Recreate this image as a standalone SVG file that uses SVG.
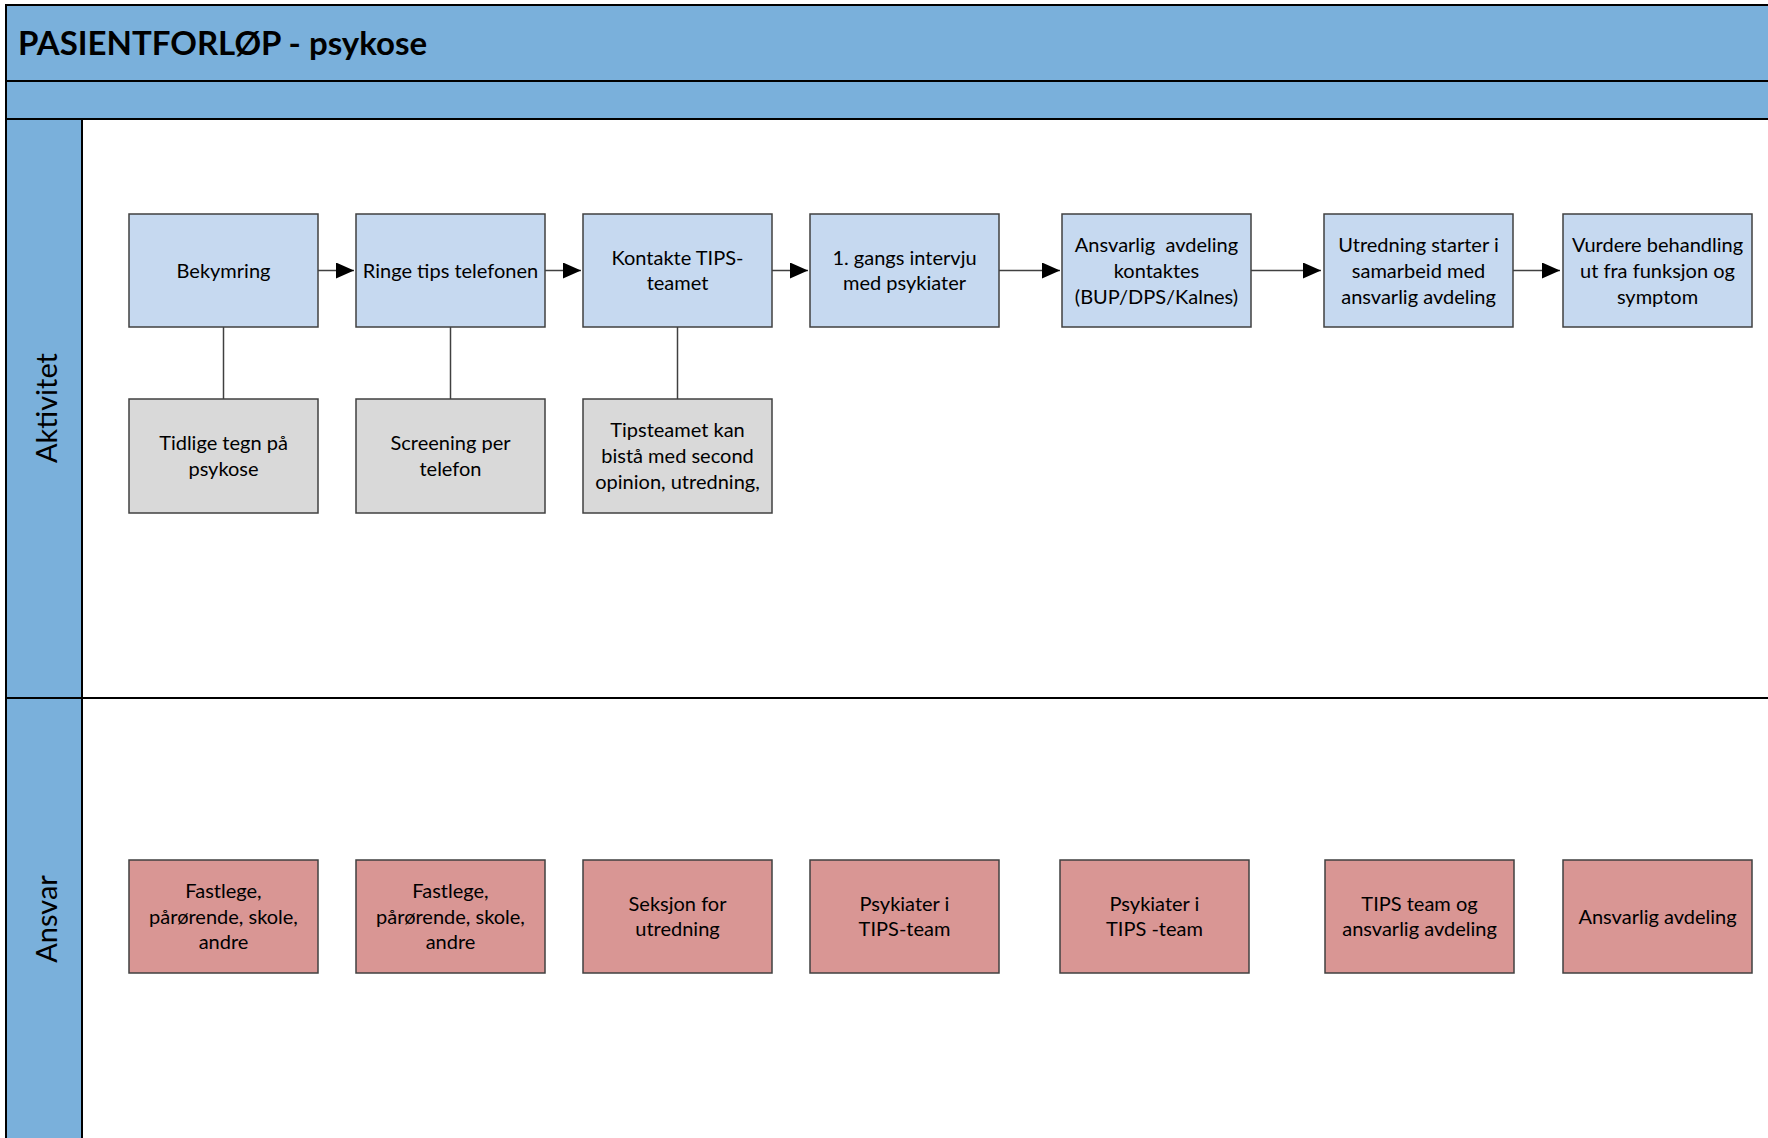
<svg xmlns="http://www.w3.org/2000/svg" width="1768" height="1138" viewBox="0 0 1768 1138">
<style>
  text { font-family: Lato, "Liberation Sans", sans-serif; fill: #000; }
  .band { fill: #7ab0db; stroke: #000; stroke-width: 2; }
  .blue { fill: #c6d9f0; stroke: #404040; stroke-width: 1.5; }
  .gray { fill: #d9d9d9; stroke: #404040; stroke-width: 1.5; }
  .red { fill: #d99694; stroke: #404040; stroke-width: 1.5; }
  .lbl { font-size: 20px; text-anchor: middle; dominant-baseline: central; }
  .lane { font-size: 29px; text-anchor: middle; dominant-baseline: central; }
  .title { font-size: 33px; font-weight: bold; }
  .conn { stroke: #404040; stroke-width: 1.5; fill: none; }
</style>
<defs>
  <marker id="arr" markerWidth="18" markerHeight="16" refX="18" refY="8" orient="auto" markerUnits="userSpaceOnUse">
    <path d="M0,0 L18,8 L0,16 Z" fill="#000"/>
  </marker>
</defs>
<rect x="0" y="0" width="1768" height="1138" fill="#fff"/>
<!-- frame -->
<g id="frame">
  <rect class="band" x="6" y="5" width="1800" height="76"/>
  <rect class="band" x="6" y="81" width="1800" height="38"/>
  <rect x="6" y="119" width="1800" height="1100" fill="#fff" stroke="#000" stroke-width="2"/>
  <rect class="band" x="6" y="119" width="76" height="579"/>
  <rect class="band" x="6" y="698" width="76" height="520"/>
  <line x1="82" y1="698" x2="1800" y2="698" stroke="#000" stroke-width="2"/>
  <text class="title" x="18" y="55">PASIENTFORLØP - psykose</text>
  <text class="lane" transform="translate(45,408) rotate(-90)">Aktivitet</text>
  <text class="lane" transform="translate(45,919) rotate(-90)">Ansvar</text>
</g>
<!-- connectors -->
<g id="connectors">
  <line class="conn" x1="318" y1="270.5" x2="354" y2="270.5" marker-end="url(#arr)"/>
  <line class="conn" x1="545" y1="270.5" x2="581" y2="270.5" marker-end="url(#arr)"/>
  <line class="conn" x1="772" y1="270.5" x2="808" y2="270.5" marker-end="url(#arr)"/>
  <line class="conn" x1="999" y1="270.5" x2="1060" y2="270.5" marker-end="url(#arr)"/>
  <line class="conn" x1="1251" y1="270.5" x2="1321" y2="270.5" marker-end="url(#arr)"/>
  <line class="conn" x1="1513" y1="270.5" x2="1560" y2="270.5" marker-end="url(#arr)"/>
  <line class="conn" x1="223.5" y1="327" x2="223.5" y2="399"/>
  <line class="conn" x1="450.5" y1="327" x2="450.5" y2="399"/>
  <line class="conn" x1="677.5" y1="327" x2="677.5" y2="399"/>
</g>
<!-- activity row -->
<g id="n-bekymring"><rect class="blue" x="129" y="214" width="189" height="113"/><text class="lbl" x="223.5" y="269.5">Bekymring</text></g>
<g id="n-ringe"><rect class="blue" x="356" y="214" width="189" height="113"/><text class="lbl" x="450.5" y="269.5">Ringe tips telefonen</text></g>
<g id="n-kontakte"><rect class="blue" x="583" y="214" width="189" height="113"/><text class="lbl" x="677.5" y="257">Kontakte TIPS-</text><text class="lbl" x="677.5" y="282">teamet</text></g>
<g id="n-intervju"><rect class="blue" x="810" y="214" width="189" height="113"/><text class="lbl" x="904.5" y="257">1. gangs intervju</text><text class="lbl" x="904.5" y="282">med psykiater</text></g>
<g id="n-ansvarlig"><rect class="blue" x="1062" y="214" width="189" height="113"/><text class="lbl" x="1156.5" y="244" style="white-space:pre">Ansvarlig  avdeling</text><text class="lbl" x="1156.5" y="270">kontaktes</text><text class="lbl" x="1156.5" y="296">(BUP/DPS/Kalnes)</text></g>
<g id="n-utredning"><rect class="blue" x="1324" y="214" width="189" height="113"/><text class="lbl" x="1418.5" y="244">Utredning starter i</text><text class="lbl" x="1418.5" y="270">samarbeid med</text><text class="lbl" x="1418.5" y="296">ansvarlig avdeling</text></g>
<g id="n-vurdere"><rect class="blue" x="1563" y="214" width="189" height="113"/><text class="lbl" x="1657.5" y="244">Vurdere behandling</text><text class="lbl" x="1657.5" y="270">ut fra funksjon og</text><text class="lbl" x="1657.5" y="296">symptom</text></g>
<!-- detail row -->
<g id="n-tidlige"><rect class="gray" x="129" y="399" width="189" height="114"/><text class="lbl" x="223.5" y="442">Tidlige tegn på</text><text class="lbl" x="223.5" y="468">psykose</text></g>
<g id="n-screening"><rect class="gray" x="356" y="399" width="189" height="114"/><text class="lbl" x="450.5" y="442">Screening per</text><text class="lbl" x="450.5" y="468">telefon</text></g>
<g id="n-tipsteamet"><rect class="gray" x="583" y="399" width="189" height="114"/><text class="lbl" x="677.5" y="429">Tipsteamet kan</text><text class="lbl" x="677.5" y="455">bistå med second</text><text class="lbl" x="677.5" y="481">opinion, utredning,</text></g>
<!-- responsibility row -->
<g id="r-1"><rect class="red" x="129" y="860" width="189" height="113"/><text class="lbl" x="223.5" y="890">Fastlege,</text><text class="lbl" x="223.5" y="916">pårørende, skole,</text><text class="lbl" x="223.5" y="941">andre</text></g>
<g id="r-2"><rect class="red" x="356" y="860" width="189" height="113"/><text class="lbl" x="450.5" y="890">Fastlege,</text><text class="lbl" x="450.5" y="916">pårørende, skole,</text><text class="lbl" x="450.5" y="941">andre</text></g>
<g id="r-3"><rect class="red" x="583" y="860" width="189" height="113"/><text class="lbl" x="677.5" y="903">Seksjon for</text><text class="lbl" x="677.5" y="928">utredning</text></g>
<g id="r-4"><rect class="red" x="810" y="860" width="189" height="113"/><text class="lbl" x="904.5" y="903">Psykiater i</text><text class="lbl" x="904.5" y="928">TIPS-team</text></g>
<g id="r-5"><rect class="red" x="1060" y="860" width="189" height="113"/><text class="lbl" x="1154.5" y="903">Psykiater i</text><text class="lbl" x="1154.5" y="928">TIPS -team</text></g>
<g id="r-6"><rect class="red" x="1325" y="860" width="189" height="113"/><text class="lbl" x="1419.5" y="903">TIPS team og</text><text class="lbl" x="1419.5" y="928">ansvarlig avdeling</text></g>
<g id="r-7"><rect class="red" x="1563" y="860" width="189" height="113"/><text class="lbl" x="1657.5" y="916">Ansvarlig avdeling</text></g>
</svg>
